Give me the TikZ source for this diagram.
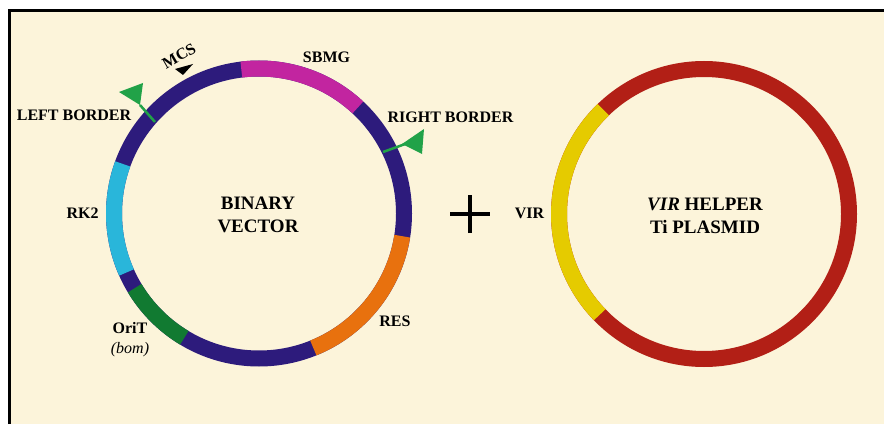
\documentclass[tikz,border=0pt]{standalone}
\usepackage{fontspec}
\setmainfont{Liberation Serif}
\usepackage{tikz}
\definecolor{creamcol}{HTML}{FCF4DA}
\definecolor{vecblue}{HTML}{2D1B7C}
\definecolor{sbmgcol}{HTML}{C225A0}
\definecolor{rescol}{HTML}{E8710E}
\definecolor{oritcol}{HTML}{117A31}
\definecolor{rkcol}{HTML}{29B6DA}
\definecolor{flagcol}{HTML}{21A248}
\definecolor{ticol}{HTML}{B21F16}
\definecolor{vircol}{HTML}{E5CB00}
\newcommand{\rr}{145}
\newcommand{\seg}[4]{\draw[ring,#4] ([shift={(#2:\rr)}]#1) arc[start angle=#2,end angle=#3,radius=\rr];}

\begin{document}
\begin{tikzpicture}[x=1pt,y=1pt,
  ring/.style={line width=16pt},
  lab/.style={font=\bfseries\fontsize{16}{20}\selectfont,inner sep=0pt},
  title/.style={font=\bfseries\fontsize{19}{23}\selectfont,align=center,inner sep=0pt},
  pole/.style={flagcol,line width=2.5pt}]
\useasboundingbox (0,0) rectangle (884,424);
\fill[white] (0,0) rectangle (884,424);
\fill[creamcol] (9,0) rectangle (884,413);
\draw[line width=3pt] (9,0)--(9,413)--(884,413);
\coordinate (bvC) at (259,210.5);
\coordinate (tiC) at (704,210);
% binary vector
\draw[ring,vecblue] (bvC) circle[radius=\rr];
\seg{bvC}{97}{47}{sbmgcol}
\seg{bvC}{-9}{-68}{rescol}
\seg{bvC}{239}{211}{oritcol}
\seg{bvC}{204}{160}{rkcol}
% borders and MCS
\draw[pole] (155,302)--(140,319);
\fill[flagcol] (140,319)--(119,332)--(143,341)--cycle;
\draw[pole] (383,272)--(408,281);
\fill[flagcol] (402,280)--(424,295)--(422,270)--cycle;
\fill (175,355)--(193,360)--(183,349)--cycle;
% helper plasmid
\draw[ring,ticol] (tiC) circle[radius=\rr];
\seg{tiC}{134}{224}{vircol}
\draw[line width=4pt] (450,210)--(490,210) (470,191)--(470,229);
\node[title] (bv) at (258,208.8) {BINARY\\VECTOR};
\node[title] (ti) at (705,208) {\textit{VIR} HELPER\\Ti PLASMID};
\node[lab] (sbmg) at (326.5,367) {SBMG};
\node[lab,rotate=30] (mcs) at (179,368) {MCS};
\node[lab] (lb) at (74,309) {LEFT BORDER};
\node[lab] (rb) at (450.5,306.5) {RIGHT BORDER};
\node[lab] (rk) at (82.5,211) {RK2};
\node[lab] (res) at (395,103) {RES};
\node[lab,align=center] (orit) at (130,84.5) {OriT\\{\mdseries\itshape (bom)}};
\node[lab] (vir) at (529.5,211) {VIR};
\end{tikzpicture}
\end{document}
